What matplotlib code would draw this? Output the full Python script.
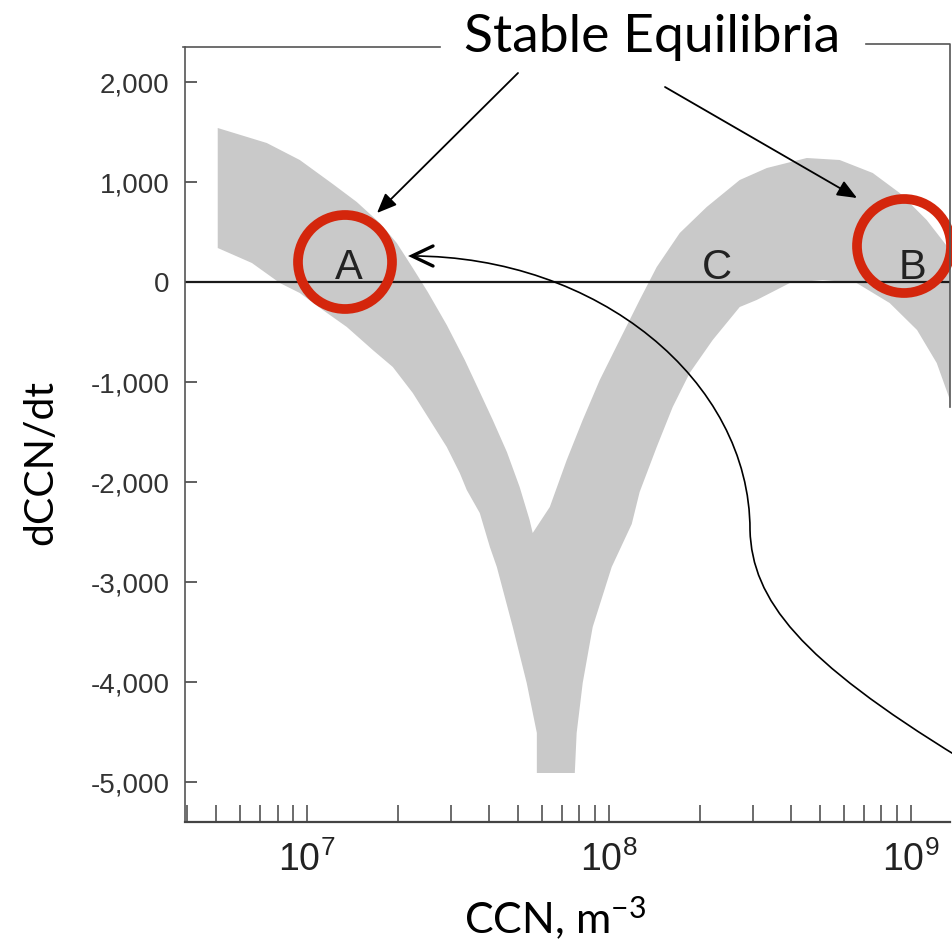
import matplotlib
matplotlib.use('Agg')
import matplotlib.pyplot as plt
from matplotlib.ticker import LogLocator, FixedLocator, FuncFormatter, NullFormatter
from matplotlib.patches import Circle, PathPatch
from matplotlib.path import Path

# grey band of dCCN/dt against CCN, upper and lower edges
upper_ccn = [5.07e6, 7.37e6, 9.48e6, 1.219e7, 1.464e7, 1.745e7, 1.986e7, 2.244e7,
             2.516e7, 2.908e7, 3.336e7, 3.74e7, 4.13e7, 4.60e7, 5.07e7, 5.47e7,
             5.60e7, 6.38e7, 7.26e7, 8.20e7, 9.34e7, 1.087e8, 1.266e8, 1.442e8,
             1.719e8, 2.111e8, 2.716e8, 3.34e8, 4.53e8, 5.82e8, 7.49e8, 9.20e8,
             1.13e9, 1.35e9]
upper_rate = [1540, 1390, 1220, 980, 800, 590, 390, 140,
              -100, -430, -780, -1100, -1380, -1700, -2050, -2380,
              -2510, -2250, -1780, -1380, -980, -580, -180, 150,
              490, 750, 1020, 1140, 1240, 1220, 1090, 890,
              620, 320]

lower_ccn = [5.07e6, 6.58e6, 8.14e6, 9.48e6, 1.130e7, 1.357e7, 1.654e7, 1.927e7,
             2.244e7, 2.555e7, 2.908e7, 3.211e7, 3.387e7, 3.74e7, 4.04e7, 4.26e7,
             4.81e7, 5.35e7, 5.78e7, 5.78e7, 7.72e7, 7.83e7, 8.20e7, 8.85e7,
             1.023e8, 1.192e8, 1.266e8, 1.442e8, 1.629e8, 1.854e8, 2.21e8, 2.716e8,
             3.09e8, 3.98e8, 5.11e8, 6.62e8, 8.52e8, 1.05e9, 1.22e9, 1.35e9]
lower_rate = [340, 190, -10, -110, -280, -450, -680, -850,
              -1110, -1380, -1650, -1910, -2080, -2310, -2650, -2850,
              -3450, -4010, -4510, -4910, -4910, -4510, -4010, -3450,
              -2850, -2420, -2100, -1650, -1250, -910, -580, -250,
              -180, -10, 20, -10, -210, -480, -810, -1180]

rate_ticks = [-5000, -4000, -3000, -2000, -1000, 0, 1000, 2000]

# equilibrium points marked on the zero line
eq_names = ['A', 'C', 'B']
eq_ccn = [1.38e7, 2.28e8, 1.015e9]

plt.rcParams['font.family'] = ['Liberation Sans', 'DejaVu Sans']

W, H = 953, 946
fig = plt.figure(figsize=(W / 100, H / 100), dpi=100)
ax = fig.add_axes([185 / W, 1 - 822 / H, 765 / W, 775 / H])

band_x = upper_ccn + lower_ccn[::-1]
band_y = upper_rate + lower_rate[::-1]
ax.fill(band_x, band_y, color='#c9c9c9', lw=0, zorder=1)
ax.axhline(0, color='#1a1a1a', lw=1.6, zorder=2)

ax.set_xscale('log')
ax.set_xlim(3.95e6, 1.35e9)
ax.set_ylim(-5400, 2350)

ax.xaxis.set_major_locator(LogLocator(base=10))
ax.xaxis.set_minor_locator(LogLocator(base=10, subs=range(2, 10)))
ax.xaxis.set_minor_formatter(NullFormatter())
ax.yaxis.set_major_locator(FixedLocator(rate_ticks))
ax.yaxis.set_major_formatter(FuncFormatter(lambda v, p: f'{int(v):,}'))

ax.tick_params(axis='y', direction='in', length=8.5, width=1.2, color='#444',
               labelsize=20, labelcolor='#333', pad=11)
ax.tick_params(axis='x', which='both', direction='in', length=12, width=1.1,
               color='#444', labelsize=27, labelcolor='#222', pad=14)

for side in ['top', 'right']:
    ax.spines[side].set_visible(False)
ax.spines['left'].set_color('#555')
ax.spines['left'].set_linewidth(1.2)
ax.spines['bottom'].set_color('#444')
ax.spines['bottom'].set_linewidth(1.6)

for name, x in zip(eq_names, eq_ccn):
    ax.text(x, 30, name, ha='center', va='baseline', fontsize=30, color='#222',
            zorder=3)

# overlay in pixel units for the slide annotations
ov = fig.add_axes([0, 0, 1, 1], zorder=5)
ov.set_xlim(0, W)
ov.set_ylim(H, 0)
ov.axis('off')
ov.patch.set_alpha(0)

# broken frame at the top / right
ov.plot([183, 440], [47, 47], color='#555', lw=1.2)
ov.plot([866, 950, 950], [44, 44, 407], color='#555', lw=1.2)

ov.text(652, 52, 'Stable Equilibria', family='Lato', fontsize=38.5,
        ha='center', va='baseline', color='black')
ov.text(52, 462, 'dCCN/dt', family='Lato', fontsize=29.5, rotation=90,
        rotation_mode='anchor', ha='center', va='baseline', color='black')
ov.text(555, 934, r'CCN, m$\mathregular{^{-3}}$', family='Lato', fontsize=31,
        ha='center', va='baseline', color='black')

red = '#d4260c'
ov.add_patch(Circle((345, 262), 47, fill=False, ec=red, lw=7))
ov.add_patch(Circle((904, 246), 47, fill=False, ec=red, lw=7))

arrow_kw = dict(arrowstyle='-|>,head_length=0.6,head_width=0.25', color='black',
                lw=1.3, mutation_scale=20, shrinkA=0, shrinkB=0)
ov.annotate('', xy=(377, 213), xytext=(518, 73), arrowprops=arrow_kw)
ov.annotate('', xy=(857, 198), xytext=(665, 87), arrowprops=arrow_kw)

# long curved arrow pointing back at A
verts = [(412, 256), (597, 256), (750, 380), (750, 530),
         (752, 600), (800, 660), (960, 758)]
codes = [Path.MOVETO] + [Path.CURVE4] * 6
ov.add_patch(PathPatch(Path(verts, codes), fill=False, ec='black', lw=1.2))
ov.plot([433, 412, 433], [246, 256, 266], color='black', lw=2.4,
        solid_capstyle='round', solid_joinstyle='miter')

fig.savefig('out.png', dpi=100)
